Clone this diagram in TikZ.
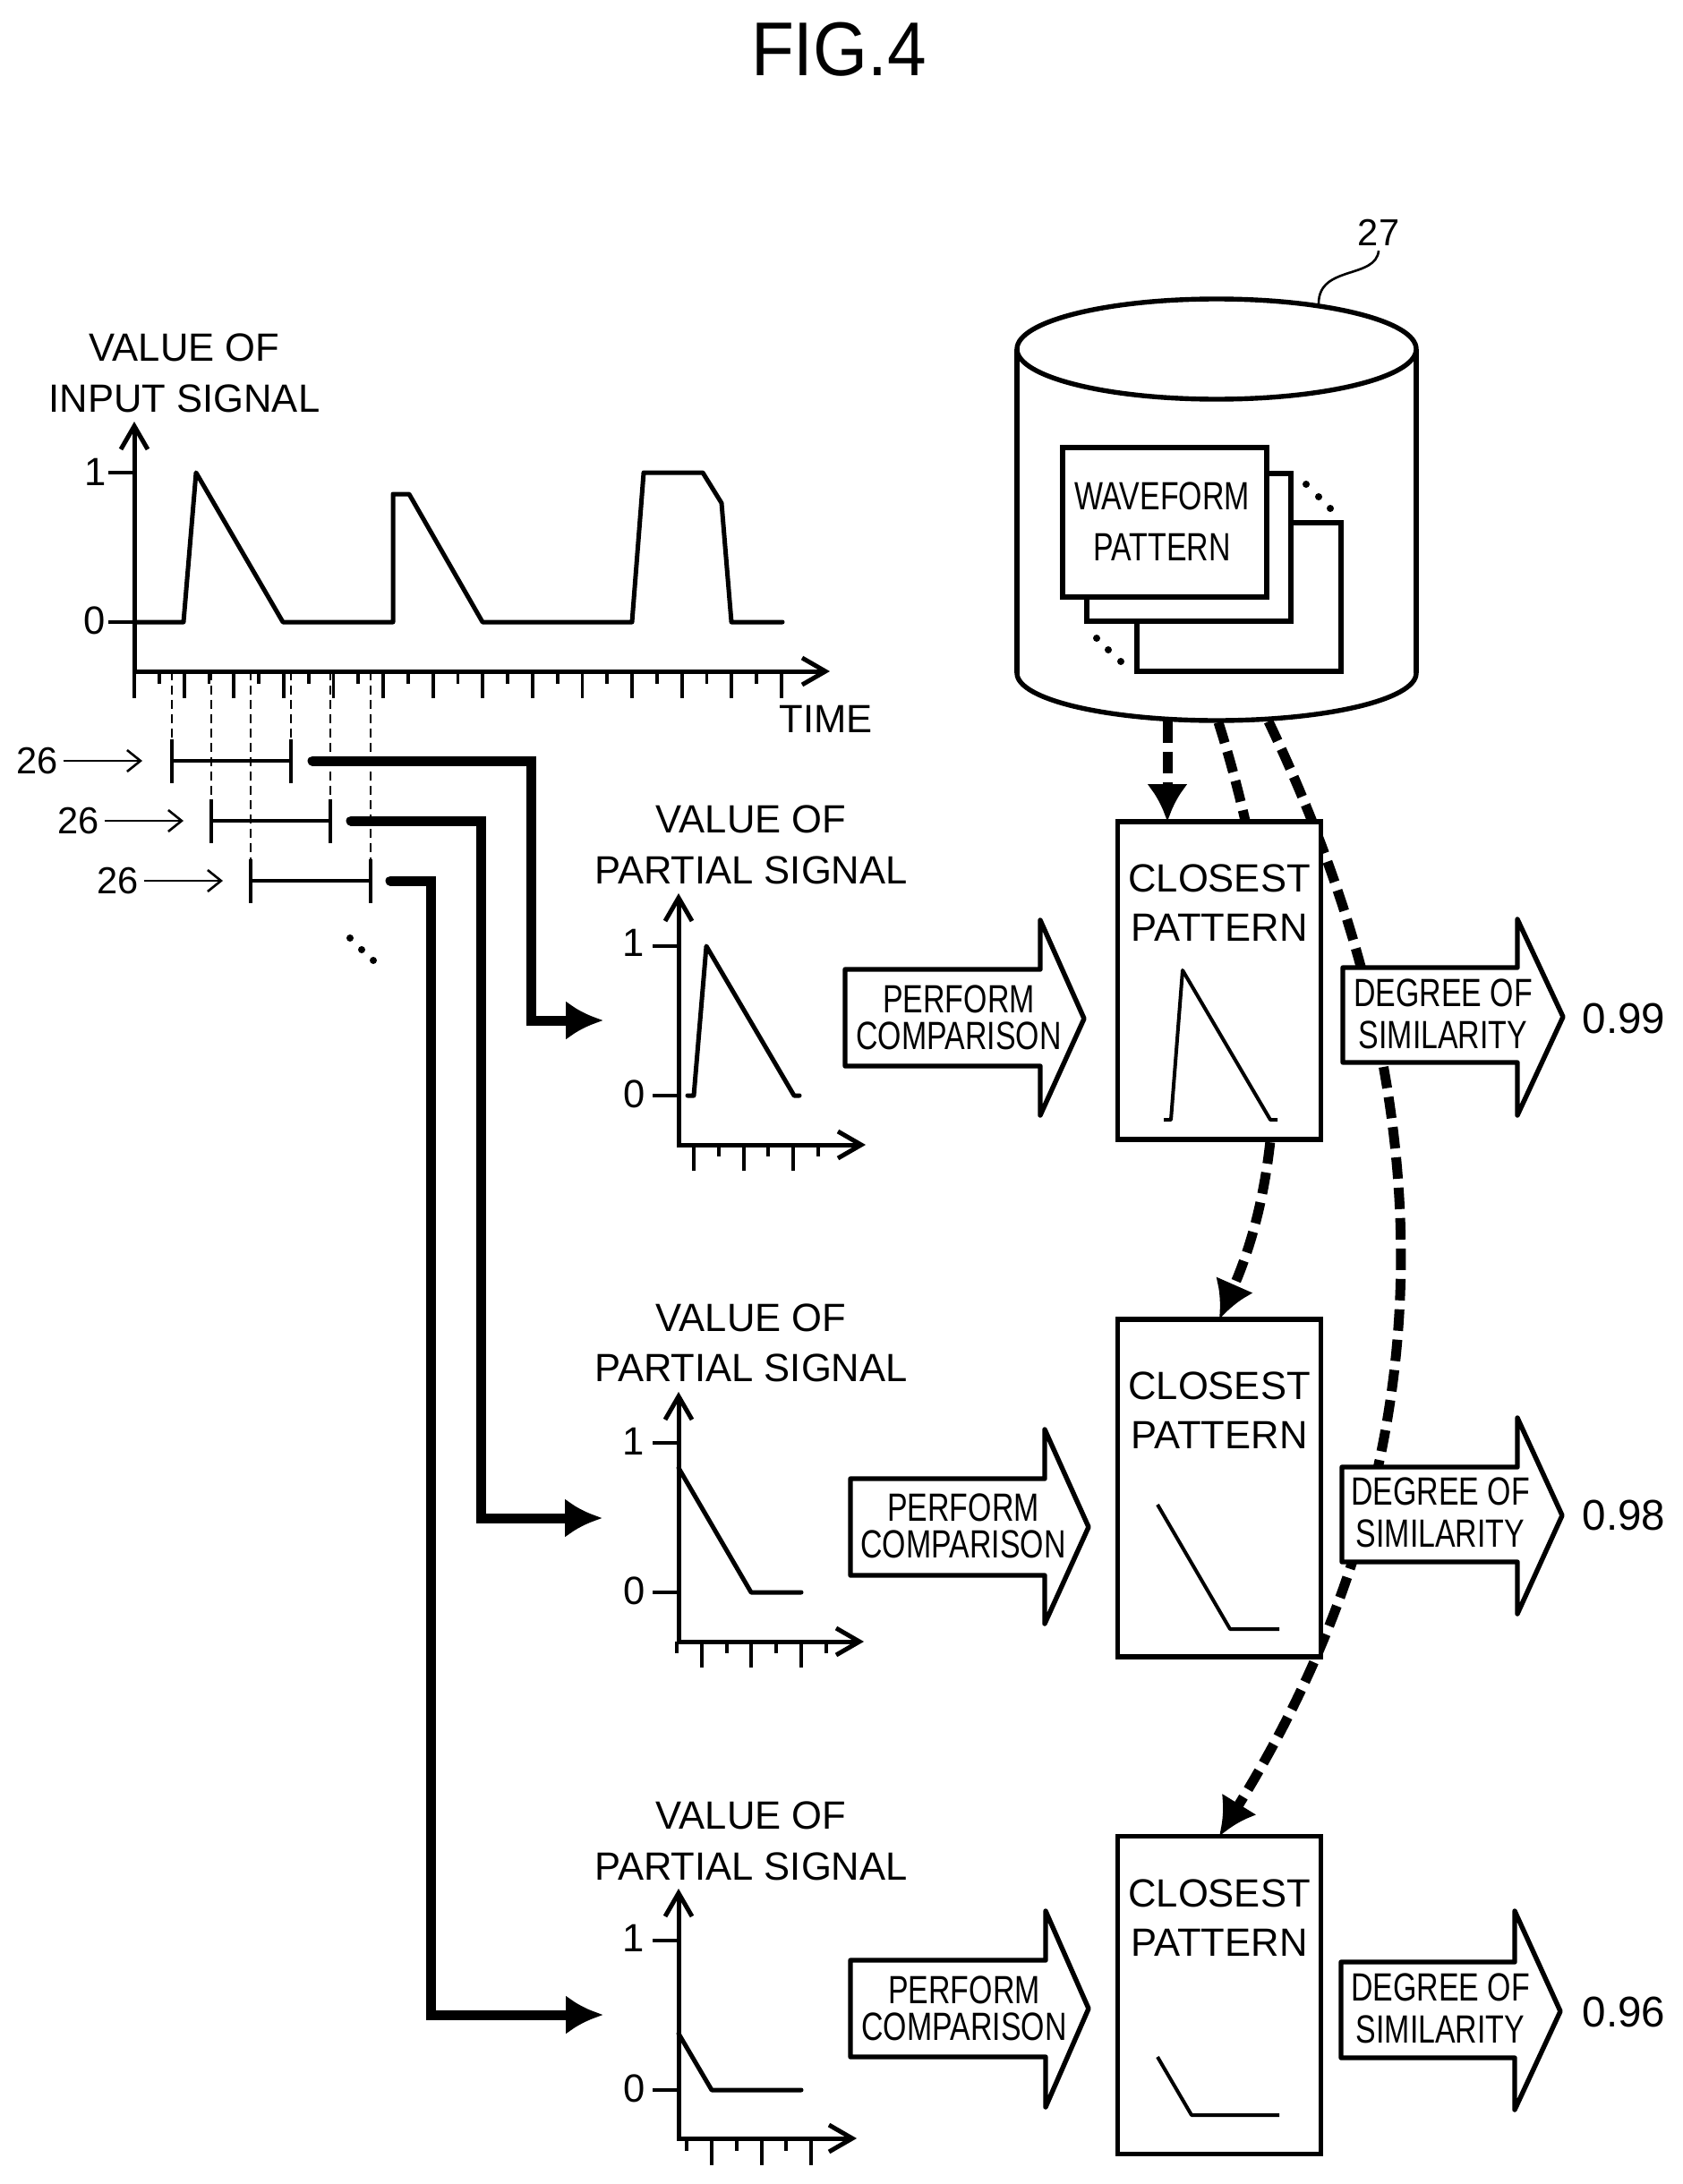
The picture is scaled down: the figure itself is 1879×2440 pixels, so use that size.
\documentclass[tikz,border=0pt]{standalone}
\usepackage{fontspec}
\usepackage{tikz}
\usetikzlibrary{arrows.meta,backgrounds}
\setmainfont{Liberation Sans}[FakeStretch=0.99]
\newfontfamily\narrowface{Liberation Sans}[FakeStretch=0.77]
\newfontfamily\titleface{Liberation Sans}[FakeStretch=0.92]

\tikzset{
  boxline/.style={line width=2.7pt,draw=black,fill=white,line join=miter},
  blockarrow/.style={boxline,line join=round},
  closestbox/.style={boxline,rectangle,minimum width=113.5pt,outer sep=0pt,inner sep=0pt},
  axisline/.style={line width=2.5pt,{Straight Barb[length=13pt,width=15pt,line width=2.5pt]}-{Straight Barb[length=13pt,width=15pt,line width=2.5pt]},line join=miter},
  signalline/.style={line width=2.5pt,line join=round,line cap=round},
  tickline/.style={line width=1.9pt},
  guideline/.style={line width=1.2pt,dash pattern=on 5pt off 3pt},
  windowline/.style={line width=2pt},
  feedline/.style={line width=5.5pt,line cap=round,line join=miter,-{Latex[length=21pt,width=22pt]}},
  refline/.style={line width=1.3pt,-{Straight Barb[length=7.5pt,width=12pt]}},
  patternflow/.style={line width=5.5pt,dash pattern=on 12pt off 5pt,-{Latex[length=21pt,width=23pt]}},
  biglabel/.style={align=center,inner sep=0pt,font=\fontsize{22}{28.25}\selectfont},
  numlabel/.style={inner sep=2.5pt,font=\fontsize{21}{25}\selectfont},
  valuelabel/.style={inner sep=0pt,font=\fontsize{24}{28}\selectfont},
  waveformlabel/.style={align=center,inner sep=0pt,font=\narrowface\fontsize{22}{28.5}\selectfont},
  degreelabel/.style={align=center,inner sep=0pt,font=\narrowface\fontsize{22}{23.5}\selectfont},
  comparelabel/.style={align=center,inner sep=0pt,font=\narrowface\fontsize{22}{20.75}\selectfont},
  closestlabel/.style={align=center,inner sep=0pt,font=\fontsize{22}{27.5}\selectfont},
}

\begin{document}
\begin{tikzpicture}[x=0.5pt,y=-0.5pt]
  \useasboundingbox (0,0) rectangle (1879,2440);

  \node[inner sep=0pt,font=\titleface\fontsize{42.6}{50}\selectfont] (figtitle) at (937,55) {FIG.4};

  % Input signal
  \node[biglabel] (inputname) at (206,417) {VALUE OF\\INPUT SIGNAL};
  \draw[axisline] (150,471) -- (150,750) -- (927,750);
  \draw[tickline] (121,528) -- (150,528);
  \draw[tickline] (121,695) -- (150,695);
  \node[biglabel] (inputone) at (107,527) {1};
  \node[biglabel] (inputzero) at (106,693) {0};
  \draw[signalline] (150,695) -- (205,695) -- (219,528) -- (316,695) -- (439,695) -- (439,552)
    -- (457,552) -- (539,695) -- (706,695) -- (719,528) -- (785,528) -- (806,562) -- (817,695) -- (874,695);
  \foreach \k in {0,...,13}
    \draw[tickline] ({150+\k*55.6},750) -- ({150+\k*55.6},780);
  \foreach \k in {0,...,12}
    \draw[tickline] ({177.8+\k*55.6},750) -- ({177.8+\k*55.6},764);
  \node[biglabel] (timename) at (923,803) {TIME};

  % Windows cut from the input signal
  \foreach \xa/\xb/\yw in {192/325/850,236/369/917,280/414/984} {
    \draw[guideline] (\xa,750) -- (\xa,\yw);
    \draw[guideline] (\xb,750) -- (\xb,\yw);
    \draw[windowline] (\xa,\yw) -- (\xb,\yw);
    \draw[windowline] (\xa,\yw-24) -- (\xa,\yw+25);
    \draw[windowline] (\xb,\yw-24) -- (\xb,\yw+25);
  }
  \node[numlabel] (win1) at (42,850) {26};
  \node[numlabel] (win2) at (88,917) {26};
  \node[numlabel] (win3) at (132,984) {26};
  \coordinate (win1tip) at (159,850);
  \coordinate (win2tip) at (205,917);
  \coordinate (win3tip) at (249,984);
  \draw[refline] (win1) -- (win1tip);
  \draw[refline] (win2) -- (win2tip);
  \draw[refline] (win3) -- (win3tip);
  \foreach \px/\py in {391/1048,404/1061,417/1073}
    \fill (\px,\py) circle (2pt);

  % Feeds from the windows to the partial plots
  \coordinate (feed1) at (349,850);
  \coordinate (feed2) at (392,917);
  \coordinate (feed3) at (436,984);
  \coordinate (plot1in) at (674,1140);
  \coordinate (plot2in) at (673,1696);
  \coordinate (plot3in) at (674,2251);
  \draw[feedline] (feed1) -- (593,850) |- (plot1in);
  \draw[feedline] (feed2) -- (537,917) |- (plot2in);
  \draw[feedline] (feed3) -- (481,984) |- (plot3in);

  % First partial signal
  \node[biglabel] (part1name) at (839,944) {VALUE OF\\PARTIAL SIGNAL};
  \draw[axisline] (758,998) -- (758,1279) -- (967,1279);
  \draw[tickline] (729,1057) -- (758,1057);
  \draw[tickline] (729,1224) -- (758,1224);
  \node[biglabel] (part1one) at (708,1053) {1};
  \node[biglabel] (part1zero) at (709,1222) {0};
  \draw[signalline] (768,1224) -- (775,1224) -- (789,1057) -- (887,1224) -- (893,1224);
  \foreach \tx in {775,831,886}
    \draw[tickline] (\tx,1279) -- (\tx,1308);
  \foreach \tx in {803,858,914}
    \draw[tickline] (\tx,1279) -- (\tx,1292);

  % Second partial signal
  \node[biglabel] (part2name) at (839,1500.5) {VALUE OF\\PARTIAL SIGNAL};
  \draw[axisline] (758,1555) -- (758,1834) -- (965,1834);
  \draw[tickline] (729,1612) -- (758,1612);
  \draw[tickline] (729,1779) -- (758,1779);
  \node[biglabel] (part2one) at (708,1610) {1};
  \node[biglabel] (part2zero) at (709,1777) {0};
  \draw[signalline] (758,1640) -- (839,1779) -- (895,1779);
  \foreach \tx in {784,839,895}
    \draw[tickline] (\tx,1834) -- (\tx,1863);
  \foreach \tx in {756,812,867,923}
    \draw[tickline] (\tx,1834) -- (\tx,1847);

  % Third partial signal
  \node[biglabel] (part3name) at (839,2057) {VALUE OF\\PARTIAL SIGNAL};
  \draw[axisline] (758,2110) -- (758,2389) -- (957,2389);
  \draw[tickline] (729,2168) -- (758,2168);
  \draw[tickline] (729,2335) -- (758,2335);
  \node[biglabel] (part3one) at (708,2165) {1};
  \node[biglabel] (part3zero) at (709,2333) {0};
  \draw[signalline] (758,2272) -- (795,2335) -- (895,2335);
  \foreach \tx in {795,851,906}
    \draw[tickline] (\tx,2389) -- (\tx,2419);
  \foreach \tx in {767,823,878}
    \draw[tickline] (\tx,2389) -- (\tx,2403);

  % Pattern store
  \draw[boxline] (1359,752) ellipse [x radius=223,y radius=53];
  \fill[white] (1136,390) rectangle (1582,752);
  \draw[line width=2.7pt] (1136,390) -- (1136,752);
  \draw[line width=2.7pt] (1582,390) -- (1582,752);
  \draw[boxline] (1359,390) ellipse [x radius=223,y radius=56];
  \draw[boxline] (1270,584) rectangle (1498,750);
  \draw[boxline] (1214,529) rectangle (1442,694);
  \draw[boxline] (1187,500) rectangle (1415,667);
  \node[waveformlabel] (wavename) at (1298,582.5) {WAVEFORM\\PATTERN};
  \foreach \px/\py in {1459/541,1473/555,1486/568,1225/713,1238/726,1252/739}
    \fill (\px,\py) circle (2pt);
  \node[numlabel] (storeref) at (1540,260) {27};
  \coordinate (storetop) at (1473,339);
  \draw[refline,-] (storeref.south) .. controls (1537,312) and (1473,296) .. (storetop);
  \coordinate (storeout1) at (1304,806);
  \coordinate (storeout2) at (1361,807);
  \coordinate (storeout3) at (1417,806);

  % Closest patterns
  \node[closestbox,minimum height=177.5pt] (closest1) at (1362,1095.5) {};
  \node[closestbox,minimum height=188.5pt] (closest2) at (1362,1662.5) {};
  \node[closestbox,minimum height=177.5pt] (closest3) at (1362,2229) {};
  \node[closestlabel] (close1name) at (1362,1009) {CLOSEST\\PATTERN};
  \node[closestlabel] (close2name) at (1362,1576) {CLOSEST\\PATTERN};
  \node[closestlabel] (close3name) at (1362,2142.5) {CLOSEST\\PATTERN};
  \draw[line width=2pt,line join=round] (1300,1251) -- (1308,1251) -- (1321,1084) -- (1419,1251) -- (1427,1251);
  \draw[line width=2pt,line join=round] (1293,1681) -- (1374,1820) -- (1429,1820);
  \draw[line width=2pt,line join=round] (1293,2298) -- (1331,2363) -- (1429,2363);

  % Comparison arrows
  \foreach \xl/\xh/\xt/\st/\sb/\ht/\hb/\ty in {
      944/1162/1211/1083/1191/1028/1246/1138,
      950/1167/1216/1652/1760/1597/1814/1706,
      950/1168/1216/2190/2298/2135/2354/2244}
    \draw[blockarrow] (\xl,\st) -- (\xh,\st) -- (\xh,\ht) -- (\xt,\ty) -- (\xh,\hb) -- (\xh,\sb) -- (\xl,\sb) -- cycle;
  \node[comparelabel] (compare1) at (1071,1137) {PERFORM\\COMPARISON};
  \node[comparelabel] (compare2) at (1076,1705) {PERFORM\\COMPARISON};
  \node[comparelabel] (compare3) at (1077,2244) {PERFORM\\COMPARISON};

  % Similarity arrows
  \foreach \xl/\xh/\xt/\st/\sb/\ht/\hb/\ty in {
      1500/1695/1746/1081/1187/1027/1246/1136,
      1499/1695/1745/1639/1745/1584/1803/1693,
      1498/1692/1743/2192/2299/2135/2357/2247}
    \draw[blockarrow] (\xl,\st) -- (\xh,\st) -- (\xh,\ht) -- (\xt,\ty) -- (\xh,\hb) -- (\xh,\sb) -- (\xl,\sb) -- cycle;
  \node[degreelabel] (degree1) at (1612,1132.5) {DEGREE OF\\SIMILARITY};
  \node[degreelabel] (degree2) at (1609,1689.5) {DEGREE OF\\SIMILARITY};
  \node[degreelabel] (degree3) at (1609,2243.5) {DEGREE OF\\SIMILARITY};
  \node[valuelabel] (score1) at (1814,1138) {0.99};
  \node[valuelabel] (score2) at (1814,1693) {0.98};
  \node[valuelabel] (score3) at (1814,2248) {0.96};

  % Dashed flows run behind the boxes
  \begin{scope}[on background layer]
    \draw[patternflow] (storeout1) -- (storeout1 |- closest1.north);
    \draw[patternflow] (storeout2) .. controls (1410,960) and (1465,1240) .. (closest2.north);
    \draw[patternflow] (storeout3) .. controls (1605,1200) and (1635,1610) .. (closest3.north);
  \end{scope}
\end{tikzpicture}
\end{document}
